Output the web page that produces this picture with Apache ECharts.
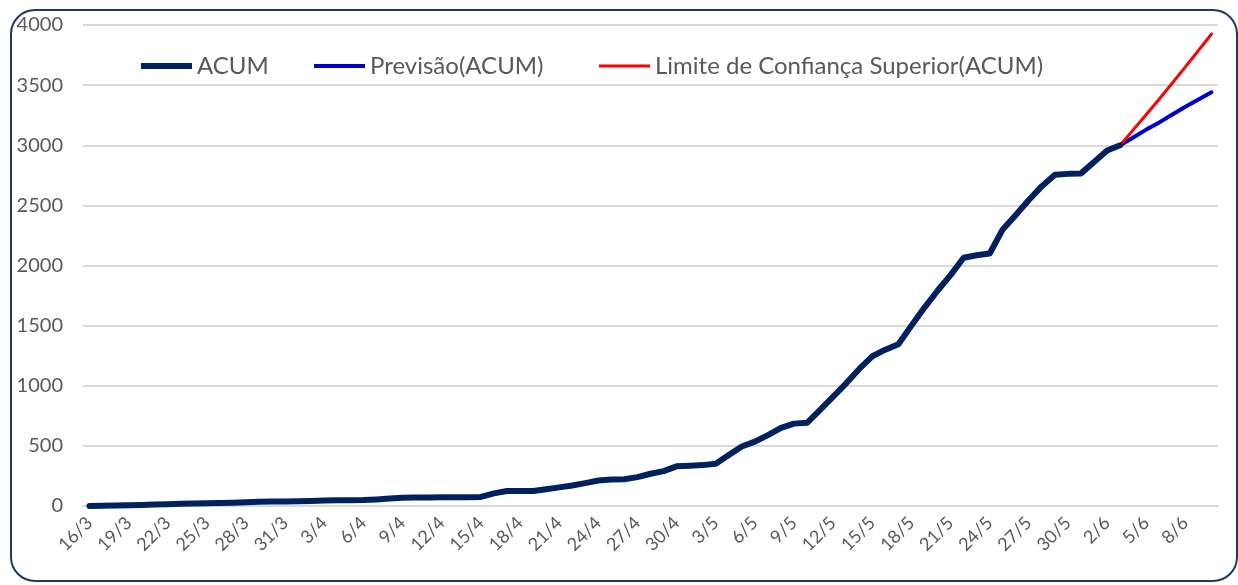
<!DOCTYPE html>
<html>
<head>
<meta charset="utf-8">
<script src="https://cdn.jsdelivr.net/npm/echarts@6/dist/echarts.min.js"></script>
<style>
  html, body { margin: 0; padding: 0; background: #fff; }
  #chart { width: 1238px; height: 585px; }
</style>
</head>
<body>
<div id="chart"></div>
<script>
// dias de 16/3 ate 10/6
var dias = [];
var meses = [[3, 16, 31], [4, 1, 30], [5, 1, 31], [6, 1, 10]];
for (var m = 0; m < meses.length; m++) {
    for (var d = meses[m][1]; d <= meses[m][2]; d++) {
        dias.push(d + '/' + meses[m][0]);
    }
}

// casos acumulados (16/3 ... 3/6)
var acum = [
    1, 2, 4, 6, 8, 12, 15, 18, 20, 22,
    25, 28, 32, 35, 37, 38, 40, 42, 45, 47,
    48, 50, 55, 62, 68, 70, 71, 72, 72, 73,
    75, 105, 125, 125, 125, 140, 155, 170, 190, 212,
    220, 222, 240, 268, 290, 330, 335, 340, 352, 425,
    495, 535, 590, 650, 685, 692, 800, 910, 1020, 1140,
    1245, 1300, 1345, 1500, 1650, 1790, 1920, 2065, 2085, 2100,
    2300, 2420, 2545, 2660, 2755, 2762, 2766, 2860, 2957, 3000
];
// previsao e limite superior (3/6 ... 10/6)
var previsao = [3000, 3065, 3130, 3190, 3255, 3320, 3380, 3440];
var limiteSup = [3000, 3128, 3256, 3385, 3518, 3652, 3788, 3925];

function serieFutura(vals) {
    var out = [];
    var start = acum.length - 1;
    for (var i = 0; i < dias.length; i++) {
        out.push(i >= start ? vals[i - start] : null);
    }
    return out;
}

var fonte = 'Lato';
var textoLegenda = { fontSize: 24, color: '#595959', fontFamily: fonte };

// uma legenda por item, para posicionar como no original
function legenda(nome, x, icone) {
    return {
        top: 49,
        left: x,
        itemWidth: 51,
        itemHeight: 14,
        textStyle: textoLegenda,
        data: [{ name: nome, icon: icone }]
    };
}

var chart = echarts.init(document.getElementById('chart'));
var option = {
    animation: false,
    textStyle: { fontFamily: fonte },
    graphic: [{
        type: 'rect',
        shape: { x: 11, y: 10, width: 1226, height: 571, r: 24 },
        style: { fill: 'none', stroke: '#1f3864', lineWidth: 2 },
        silent: true
    }],
    legend: [
        legenda('ACUM', 136, 'path://M0,0H51V6H0Z'),
        legenda('Previsão(ACUM)', 309, 'path://M0,0H51V4H0Z'),
        legenda('Limite de Confiança Superior(ACUM)', 594, 'path://M0,0H51V3H0Z')
    ],
    grid: { left: 83, right: 20, top: 25, bottom: 79 },
    xAxis: {
        type: 'category',
        data: dias,
        boundaryGap: true,
        axisLine: { lineStyle: { color: '#d9d9d9', width: 2 } },
        axisTick: { show: false },
        axisLabel: {
            interval: 2,
            rotate: 45,
            margin: 14,
            fontSize: 18,
            color: '#595959',
            fontFamily: fonte
        }
    },
    yAxis: {
        type: 'value',
        min: 0,
        max: 4000,
        interval: 500,
        axisLine: { show: false },
        axisTick: { show: false },
        splitLine: { lineStyle: { color: '#d9d9d9', width: 2 } },
        axisLabel: {
            fontSize: 20, color: '#595959', margin: 20, fontFamily: fonte,
            formatter: function (v) { return String(v); }
        }
    },
    series: [
        {
            name: 'ACUM',
            type: 'line',
            data: acum,
            symbol: 'none',
            z: 3,
            lineStyle: { color: '#002060', width: 6, cap: 'round', join: 'round' },
            itemStyle: { color: '#002060' }
        },
        {
            name: 'Previsão(ACUM)',
            type: 'line',
            data: serieFutura(previsao),
            symbol: 'none',
            z: 2,
            lineStyle: { color: '#0000cc', width: 4, cap: 'round' },
            itemStyle: { color: '#0000cc' }
        },
        {
            name: 'Limite de Confiança Superior(ACUM)',
            type: 'line',
            data: serieFutura(limiteSup),
            symbol: 'none',
            z: 2,
            lineStyle: { color: '#ff0000', width: 3, cap: 'round' },
            itemStyle: { color: '#ff0000' }
        }
    ]
};
chart.setOption(option);
</script>
</body>
</html>
